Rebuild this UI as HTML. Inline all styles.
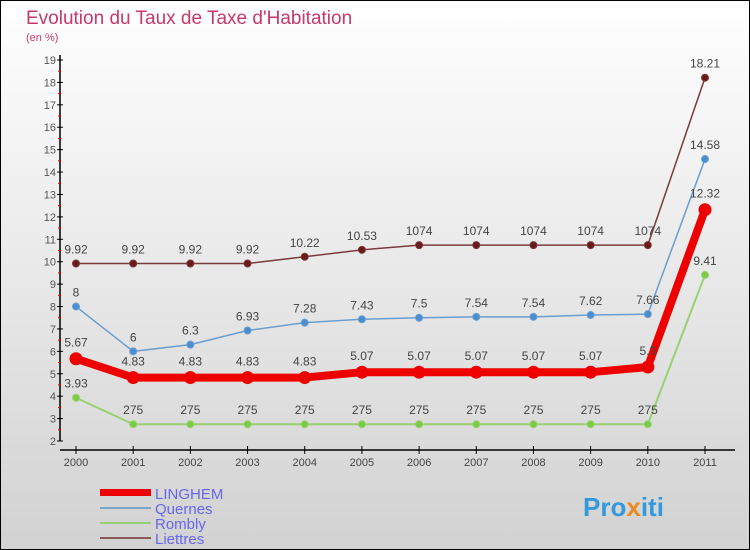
<!DOCTYPE html>
<html><head><meta charset="utf-8"><style>
body{margin:0;}
#wrap{width:750px;height:550px;position:relative;overflow:hidden;font-family:"Liberation Sans",sans-serif;}
</style></head><body>
<div id="wrap">
<svg id="svg" width="750" height="550" xmlns="http://www.w3.org/2000/svg">
<defs><linearGradient id="bg" x1="0" y1="0" x2="0" y2="1"><stop offset="0" stop-color="#ffffff"/><stop offset="1" stop-color="#d2d2d2"/></linearGradient></defs>
<rect x="0.5" y="0.5" width="749" height="549" fill="url(#bg)" stroke="#000"/>
<text x="26" y="24" font-size="19" fill="#c8386a">Evolution du Taux de Taxe d'Habitation</text>
<text x="26" y="41" font-size="11" fill="#c8386a">(en %)</text>
<g id="axes"></g>
<g id="series"></g>
<g>
<rect x="100" y="489" width="51" height="7" fill="#e00"/>
<text x="155" y="499" font-size="15" fill="#6666ee">LINGHEM</text>
<line x1="100" y1="508" x2="151" y2="508" stroke="#7aa6c8" stroke-width="2"/>
<text x="155" y="514" font-size="15" fill="#6666ee">Quernes</text>
<line x1="100" y1="523" x2="151" y2="523" stroke="#99d070" stroke-width="2"/>
<text x="155" y="529" font-size="15" fill="#6666ee">Rombly</text>
<line x1="100" y1="538" x2="151" y2="538" stroke="#8a5a5a" stroke-width="2"/>
<text x="155" y="544" font-size="15" fill="#6666ee">Liettres</text>
</g>
<text x="583" y="516" font-size="26" font-weight="bold" fill="#3399dd">Pro<tspan fill="#ee8822">x</tspan>iti</text>
</svg>
</div>
<script>
const years=[2000,2001,2002,2003,2004,2005,2006,2007,2008,2009,2010,2011];
const yTicks=[2,3,4,5,6,7,8,9,10,11,12,13,14,15,16,17,18,19];
const linghem=[5.67,4.83,4.83,4.83,4.83,5.07,5.07,5.07,5.07,5.07,5.3,12.32];
const linghemLabels=["5.67","4.83","4.83","4.83","4.83","5.07","5.07","5.07","5.07","5.07","5.3","12.32"];
const quernes=[8,6,6.3,6.93,7.28,7.43,7.5,7.54,7.54,7.62,7.66,14.58];
const rombly=[3.93,2.75,2.75,2.75,2.75,2.75,2.75,2.75,2.75,2.75,2.75,9.41];
const rombyLabels=["3.93","275","275","275","275","275","275","275","275","275","275","9.41"];
const liettres=[9.92,9.92,9.92,9.92,10.22,10.53,10.74,10.74,10.74,10.74,10.74,18.21];
const liettresLabels=["9.92","9.92","9.92","9.92","10.22","10.53","1074","1074","1074","1074","1074","18.21"];
const NS="http://www.w3.org/2000/svg";
function X(i){return 76+i*(705-76)/(years.length-1);}
function Y(v){return 441-(v-2)*(441-60)/17;}
function mk(tag,attrs,parent){const e=document.createElementNS(NS,tag);for(const k in attrs)e.setAttribute(k,attrs[k]);parent.appendChild(e);return e;}
const ax=document.getElementById('axes');
let a=mk('line',{x1:60,y1:55,x2:60,y2:441,stroke:'#000','stroke-width':1.5},ax);


a=mk('line',{x1:60,y1:450,x2:735,y2:450,stroke:'#000','stroke-width':1.5},ax);


yTicks.forEach(v=>{
 mk('line',{x1:57,y1:Y(v),x2:63,y2:Y(v),stroke:'#000'},ax);
 if(v<19)mk('line',{x1:58,y1:Y(v+0.5),x2:61,y2:Y(v+0.5),stroke:'#e00'},ax);
 const t=mk('text',{x:56,y:Y(v)+4,'font-size':11,fill:'#555','text-anchor':'end'},ax);
 t.textContent=v;
 
 
});
years.forEach((yr,i)=>{
 mk('line',{x1:X(i),y1:446,x2:X(i),y2:454,stroke:'#000'},ax);
 const t=mk('text',{x:X(i),y:466,'font-size':11,fill:'#444','text-anchor':'middle'},ax);
 t.textContent=yr;
 
 
});
const sg=document.getElementById('series');
function series(vals,labels,color,w,r,dot,name,dy){
 const g=mk('g',{},sg);
 
 
 mk('polyline',{points:vals.map((v,i)=>X(i)+','+Y(v)).join(' '),fill:'none',stroke:color,'stroke-width':w,'stroke-linejoin':'round'},g);
 vals.forEach((v,i)=>{
  const c=mk('circle',{cx:X(i),cy:Y(v),r:r,fill:dot,stroke:color,'stroke-width':1},g);
  
  
  const t=mk('text',{x:X(i),y:Y(v)+dy,'font-size':12,fill:'#444','text-anchor':'middle'},g);
  t.textContent=labels[i];
  
  
 });
}
series(rombly,rombyLabels,'#99d070',2,3.5,'#77cc44','rombly',-10);
series(liettres,liettresLabels,'#7a3a3a',1.5,3.5,'#6a1a1a','liettres',-10);
series(quernes,quernes.map(String),'#6a9ed0',1.5,3.5,'#4a8ed0','quernes',-10);
series(linghem,linghemLabels,'#ee0000',8,6,'#ee0000','linghem',-12);
</script>
</body></html>
